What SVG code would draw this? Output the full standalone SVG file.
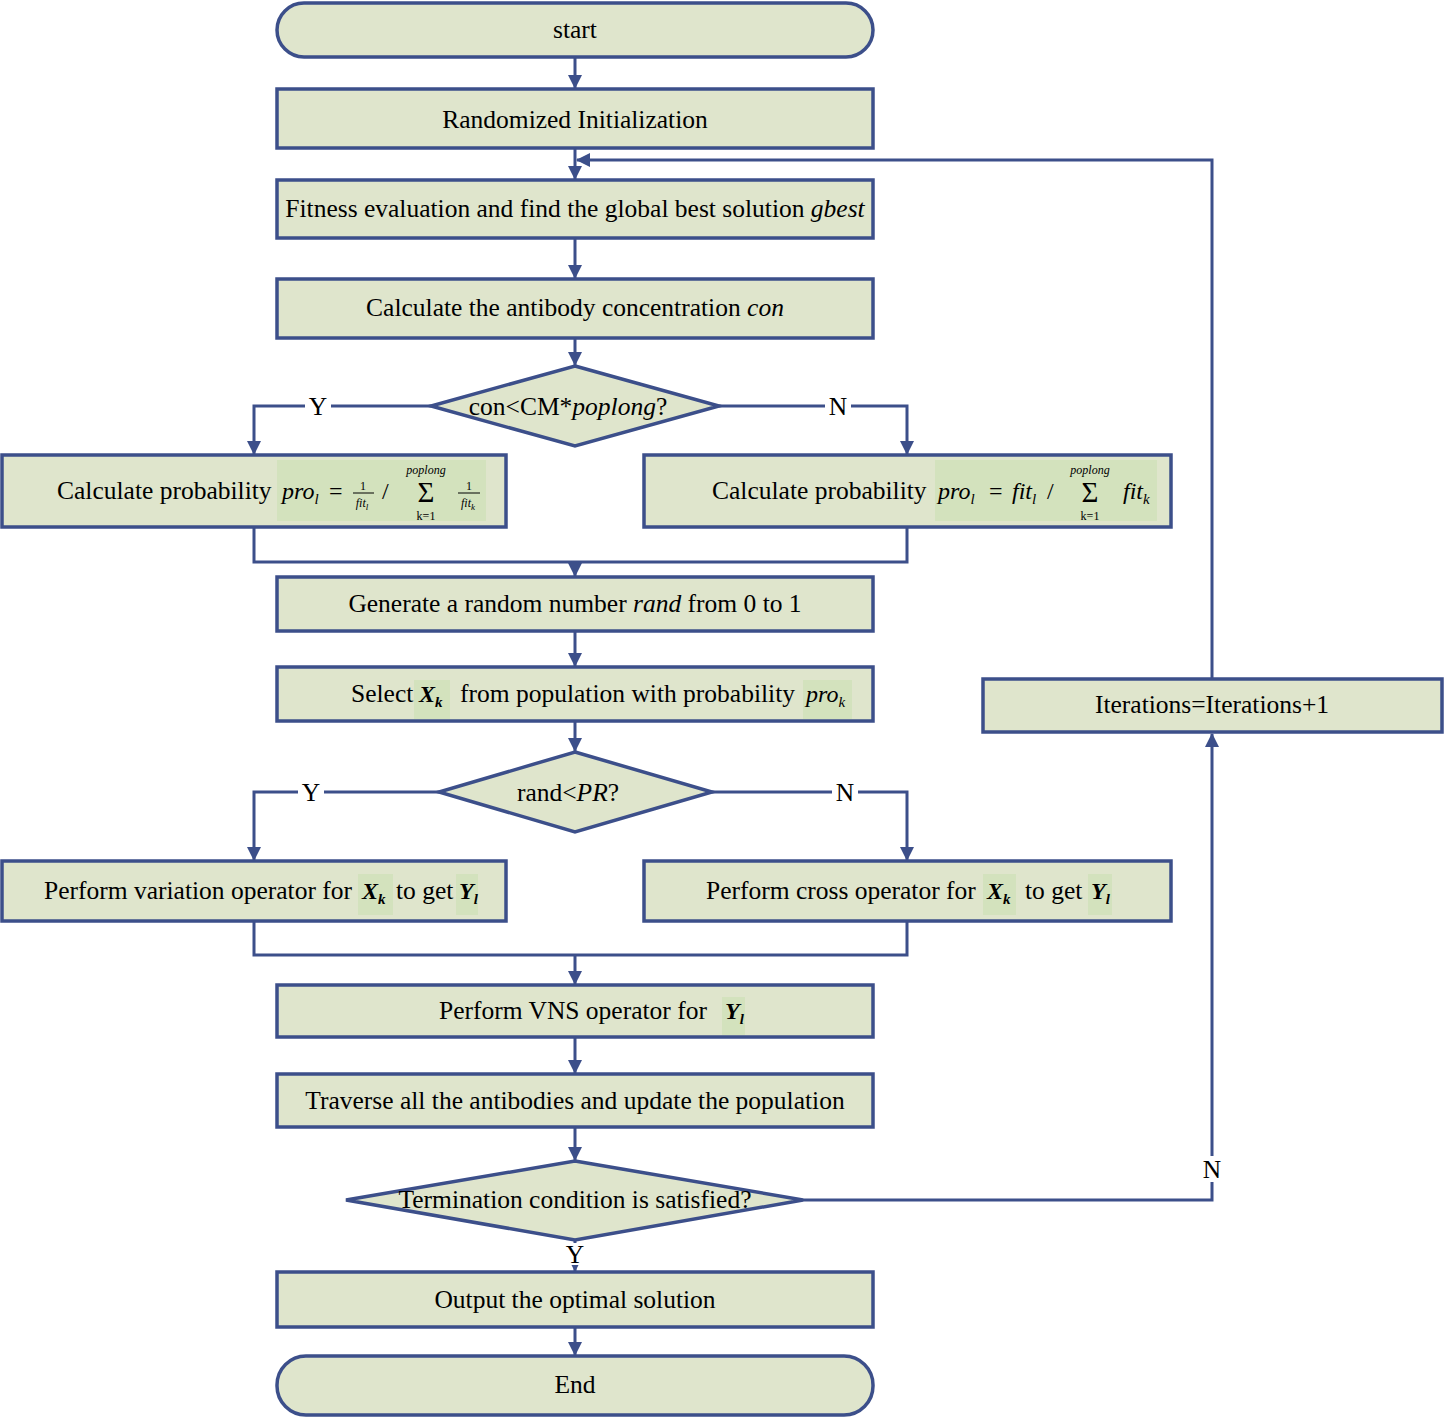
<svg xmlns="http://www.w3.org/2000/svg" width="1447" height="1420" viewBox="0 0 1447 1420">
<defs>
<marker id="arr" markerUnits="userSpaceOnUse" markerWidth="14" markerHeight="14" refX="13" refY="7" orient="auto">
<path d="M0,0 L14,7 L0,14 Z" fill="#3c4f8a"/>
</marker>
<style>
.box{fill:#dfe5cc;stroke:#3c4f8a;stroke-width:3.5}
.hl{fill:#d3e2bd}
.ln{fill:none;stroke:#3c4f8a;stroke-width:3}
text{font-family:"Liberation Serif","Times New Roman",serif;font-size:25.5px;fill:#000}
.c{text-anchor:middle}
.i{font-style:italic}
.b{font-weight:bold;font-style:italic}
.f{font-size:24px}
.s{font-size:15px}
.xs{font-size:12px}
.lbl{fill:#fff}
.sig{font-size:29px}
</style>
</defs>
<rect width="1447" height="1420" fill="#fff"/>

<g id="connectors">
<path class="ln" d="M575,57 V88" marker-end="url(#arr)"/>
<path class="ln" d="M575,148 V179" marker-end="url(#arr)"/>
<path class="ln" d="M575,238 V278" marker-end="url(#arr)"/>
<path class="ln" d="M575,338 V365" marker-end="url(#arr)"/>
<path class="ln" d="M431,406 H254 V454" marker-end="url(#arr)"/>
<path class="ln" d="M719,406 H907 V454" marker-end="url(#arr)"/>
<path class="ln" d="M254,527 V562 H907 V527"/>
<path class="ln" d="M575,562 V576" marker-end="url(#arr)"/>
<path class="ln" d="M575,631 V666" marker-end="url(#arr)"/>
<path class="ln" d="M575,721 V751" marker-end="url(#arr)"/>
<path class="ln" d="M439,792 H254 V860" marker-end="url(#arr)"/>
<path class="ln" d="M712,792 H907 V860" marker-end="url(#arr)"/>
<path class="ln" d="M254,921 V955 H907 V921"/>
<path class="ln" d="M575,955 V984" marker-end="url(#arr)"/>
<path class="ln" d="M575,1037 V1073" marker-end="url(#arr)"/>
<path class="ln" d="M575,1127 V1160" marker-end="url(#arr)"/>
<path class="ln" d="M575,1240 V1271" marker-end="url(#arr)"/>
<path class="ln" d="M575,1327 V1355" marker-end="url(#arr)"/>
<path class="ln" d="M803,1200 H1212 V734" marker-end="url(#arr)"/>
<path class="ln" d="M1212,679 V160 H577" marker-end="url(#arr)"/>
<rect class="lbl" x="305" y="393" width="26" height="26"/>
<text class="c" x="318" y="415">Y</text>
<rect class="lbl" x="825" y="393" width="26" height="26"/>
<text class="c" x="838" y="415">N</text>
<rect class="lbl" x="298" y="779" width="26" height="26"/>
<text class="c" x="311" y="801">Y</text>
<rect class="lbl" x="832" y="779" width="26" height="26"/>
<text class="c" x="845" y="801">N</text>
<rect class="lbl" x="562" y="1243" width="26" height="22"/>
<text class="c" x="575" y="1263">Y</text>
<rect class="lbl" x="1199" y="1156" width="26" height="26"/>
<text class="c" x="1212" y="1178">N</text>
</g>

<g id="start">
<rect class="box" x="277" y="3" width="596" height="54" rx="27"/>
<text class="c" x="575" y="38">start</text>
</g>
<g id="init">
<rect class="box" x="277" y="89" width="596" height="59"/>
<text class="c" x="575" y="128">Randomized Initialization</text>
</g>
<g id="fitness">
<rect class="box" x="277" y="180" width="596" height="58"/>
<text class="c" x="575" y="217" font-size="26">Fitness evaluation and find the global best solution <tspan class="i">gbest</tspan></text>
</g>
<g id="concentration">
<rect class="box" x="277" y="279" width="596" height="59"/>
<text class="c" x="575" y="316">Calculate the antibody concentration <tspan class="i">con</tspan></text>
</g>
<g id="dec1">
<polygon class="box" points="575,366 719,406 575,446 431,406"/>
<text class="c" x="568" y="415">con&lt;CM*<tspan class="i">poplong</tspan>?</text>
</g>
<g id="probLeft">
<rect class="box" x="2" y="455" width="504" height="72"/>
<rect class="hl" x="277" y="460" width="209" height="61"/>
<text x="57" y="499">Calculate probability</text>
<text class="i f" x="282" y="499">pro<tspan class="s" dy="5">l</tspan></text>
<text class="f" x="329" y="499">=</text>
<text class="xs c" x="363" y="490">1</text>
<line x1="353" y1="493" x2="374" y2="493" stroke="#000" stroke-width="1"/>
<text class="xs i c" x="362" y="507">fit<tspan font-size="9" dy="3">l</tspan></text>
<text class="f" x="382" y="499">/</text>
<text class="xs i c" x="426" y="474">poplong</text>
<text class="sig c" x="426" y="502">Σ</text>
<text class="xs c" x="426" y="520">k=1</text>
<text class="xs c" x="469" y="490">1</text>
<line x1="458" y1="493" x2="480" y2="493" stroke="#000" stroke-width="1"/>
<text class="xs i c" x="468" y="507">fit<tspan font-size="9" dy="3">k</tspan></text>
</g>
<g id="probRight">
<rect class="box" x="644" y="455" width="527" height="72"/>
<rect class="hl" x="935" y="460" width="222" height="61"/>
<text x="712" y="499">Calculate probability</text>
<text class="i f" x="938" y="499">pro<tspan class="s" dy="5">l</tspan></text>
<text class="f" x="989" y="499">=</text>
<text class="i f" x="1012" y="499">fit<tspan class="s" dy="5">l</tspan></text>
<text class="f" x="1047" y="499">/</text>
<text class="xs i c" x="1090" y="474">poplong</text>
<text class="sig c" x="1090" y="502">Σ</text>
<text class="xs c" x="1090" y="520">k=1</text>
<text class="i f" x="1123" y="499">fit<tspan class="s" dy="5">k</tspan></text>
</g>
<g id="generate">
<rect class="box" x="277" y="577" width="596" height="54"/>
<text class="c" x="575" y="612">Generate a random number <tspan class="i">rand</tspan> from 0 to 1</text>
</g>
<g id="select">
<rect class="box" x="277" y="667" width="596" height="54"/>
<rect class="hl" x="414" y="680" width="36" height="39"/>
<rect class="hl" x="803" y="680" width="49" height="39"/>
<text x="351" y="702">Select</text>
<text class="b f" x="419" y="702">X<tspan class="s" dy="5">k</tspan></text>
<text x="460" y="702">from population with probability</text>
<text class="i f" x="806" y="702">pro<tspan class="s" dy="5">k</tspan></text>
</g>
<g id="dec2">
<polygon class="box" points="575,752 712,792 575,832 439,792"/>
<text class="c" x="568" y="801">rand&lt;<tspan class="i">PR</tspan>?</text>
</g>
<g id="variation">
<rect class="box" x="2" y="861" width="504" height="60"/>
<rect class="hl" x="358" y="874" width="35" height="41"/>
<rect class="hl" x="456" y="874" width="22" height="41"/>
<text x="44" y="899">Perform variation operator for</text>
<text class="b f" x="362" y="899">X<tspan class="s" dy="5">k</tspan></text>
<text x="396" y="899">to get</text>
<text class="b f" x="459" y="899">Y<tspan class="s" dy="5">l</tspan></text>
</g>
<g id="cross">
<rect class="box" x="644" y="861" width="527" height="60"/>
<rect class="hl" x="983" y="874" width="33" height="41"/>
<rect class="hl" x="1088" y="874" width="24" height="41"/>
<text x="706" y="899">Perform cross operator for</text>
<text class="b f" x="987" y="899">X<tspan class="s" dy="5">k</tspan></text>
<text x="1025" y="899">to get</text>
<text class="b f" x="1091" y="899">Y<tspan class="s" dy="5">l</tspan></text>
</g>
<g id="vns">
<rect class="box" x="277" y="985" width="596" height="52"/>
<rect class="hl" x="722" y="997" width="23" height="38"/>
<text x="439" y="1019">Perform VNS operator for</text>
<text class="b f" x="725" y="1019">Y<tspan class="s" dy="5">l</tspan></text>
</g>
<g id="traverse">
<rect class="box" x="277" y="1074" width="596" height="53"/>
<text class="c" x="575" y="1109">Traverse all the antibodies and update the population</text>
</g>
<g id="dec3">
<polygon class="box" points="575,1161 803,1200 575,1240 346,1200"/>
<text class="c" x="575" y="1208">Termination condition is satisfied?</text>
</g>
<g id="output">
<rect class="box" x="277" y="1272" width="596" height="55"/>
<text class="c" x="575" y="1308">Output the optimal solution</text>
</g>
<g id="end">
<rect class="box" x="277" y="1356" width="596" height="59" rx="29"/>
<text class="c" x="575" y="1393">End</text>
</g>
<g id="iterations">
<rect class="box" x="983" y="679" width="459" height="53"/>
<text class="c" x="1212" y="713">Iterations=Iterations+1</text>
</g>
</svg>
